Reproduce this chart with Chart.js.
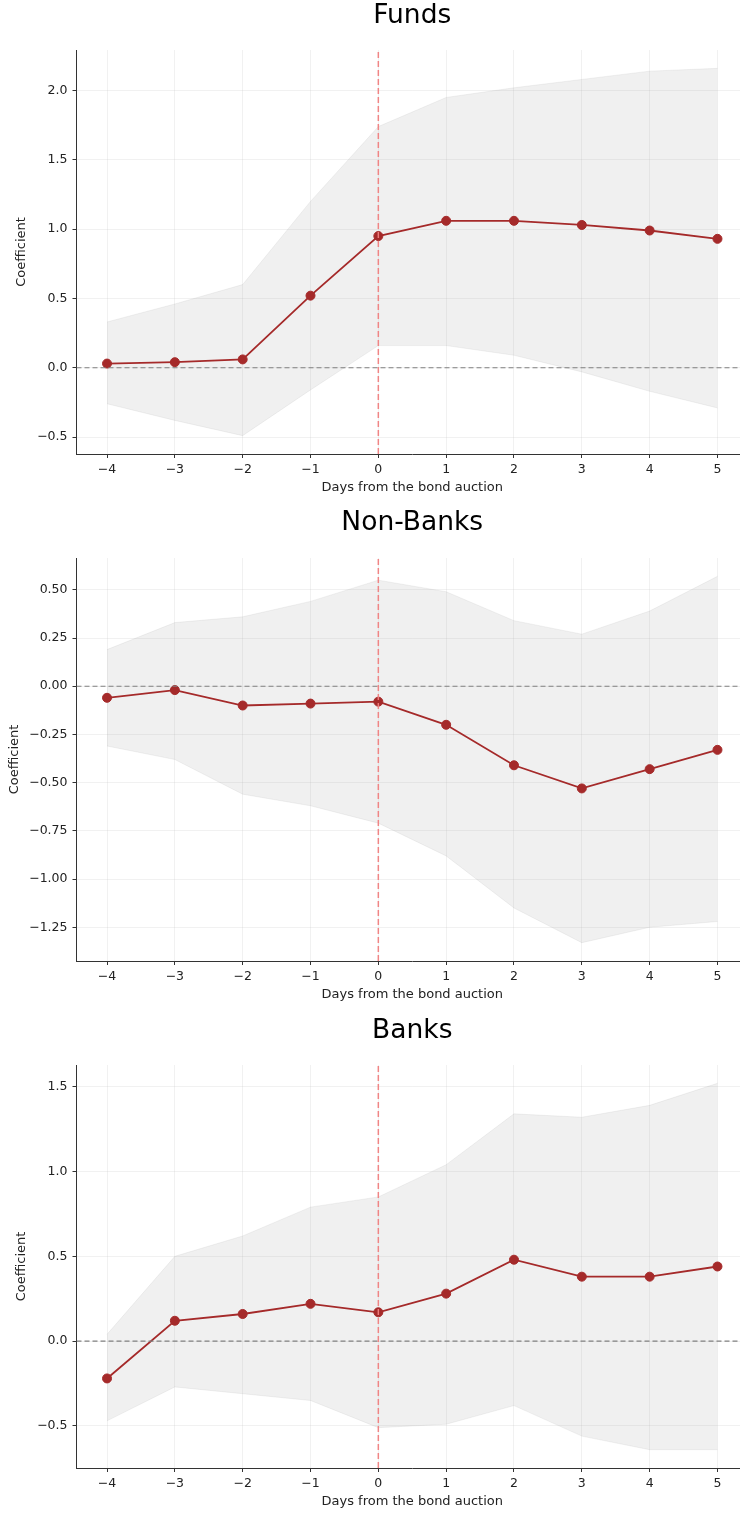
<!DOCTYPE html>
<html>
<head>
<meta charset="utf-8">
<script src="https://cdn.jsdelivr.net/npm/chart.js@4.4.0/dist/chart.umd.min.js"></script>
<style>
  html, body { margin: 0; padding: 0; background: #fff; }
  #wrap { position: relative; width: 740px; height: 1514px; overflow: hidden; }
  canvas { position: absolute; left: 0; }
</style>
</head>
<body>
<div id="wrap">
  <canvas id="funds" width="749" height="505" style="top:0px"></canvas>
  <canvas id="nonbanks" width="749" height="505" style="top:507px"></canvas>
  <canvas id="banks" width="749" height="500" style="top:1014px"></canvas>
</div>
<script>
// Event days relative to the bond auction
const days = [-4, -3, -2, -1, 0, 1, 2, 3, 4, 5];
const xTicks = [-4, -3, -2, -1, 0, 1, 2, 3, 4, 5];

// Funds: point estimates and confidence band
const fundsCoef  = [0.03, 0.04, 0.06, 0.52, 0.95, 1.06, 1.06, 1.03, 0.99, 0.93];
const fundsLower = [-0.26, -0.38, -0.49, -0.16, 0.16, 0.16, 0.09, -0.03, -0.17, -0.29];
const fundsUpper = [0.33, 0.46, 0.60, 1.20, 1.74, 1.95, 2.02, 2.08, 2.14, 2.16];
const fundsYTicks = [-0.5, 0.0, 0.5, 1.0, 1.5, 2.0];

// Non-banks
const nonBanksCoef  = [-0.06, -0.02, -0.10, -0.09, -0.08, -0.20, -0.41, -0.53, -0.43, -0.33];
const nonBanksLower = [-0.31, -0.38, -0.56, -0.62, -0.71, -0.88, -1.15, -1.33, -1.25, -1.22];
const nonBanksUpper = [0.19, 0.33, 0.36, 0.44, 0.55, 0.49, 0.34, 0.27, 0.39, 0.57];
const nonBanksYTicks = [-1.25, -1.00, -0.75, -0.50, -0.25, 0.00, 0.25, 0.50];

// Banks
const banksCoef  = [-0.22, 0.12, 0.16, 0.22, 0.17, 0.28, 0.48, 0.38, 0.38, 0.44];
const banksLower = [-0.47, -0.27, -0.31, -0.35, -0.51, -0.49, -0.38, -0.56, -0.64, -0.64];
const banksUpper = [0.04, 0.50, 0.62, 0.79, 0.85, 1.04, 1.34, 1.32, 1.39, 1.52];
const banksYTicks = [-0.5, 0.0, 0.5, 1.0, 1.5];

const FONT = "'DejaVu Sans', 'Liberation Sans', sans-serif";
const LINE_COLOR = '#a52a2a';
const AXIS_COLOR = '#333333';
const GRID_COLOR = 'rgba(176,176,176,0.18)';
const TITLE_SIZE = 26.5;
const AXIS_TITLE_SIZE = 13;

const fmt = (v, d) => {
  const s = Math.abs(v).toFixed(d);
  return (v < 0 ? '\u2212' : '') + s;
};

// axis limits padded by 5% of the data span on each side
function padRange(values) {
  const lo = Math.min(...values), hi = Math.max(...values);
  const m = (hi - lo) * 0.05;
  return [lo - m, hi + m];
}

function drawPanel(p) {
  const [xMin, xMax] = padRange(days);
  const [yMin, yMax] = padRange([...p.lower, ...p.upper, ...p.coef]);
  const pts = arr => days.map((d, i) => ({ x: d, y: arr[i] }));
  const titleLine = TITLE_SIZE * 1.2;
  const axisLine = AXIS_TITLE_SIZE * 1.2;

  new Chart(document.getElementById(p.id), {
    type: 'line',
    data: {
      datasets: [
        {
          // auction day marker
          data: [{ x: 0, y: yMin }, { x: 0, y: yMax }],
          borderColor: 'rgba(240,128,128,0.95)',
          borderWidth: 1.5,
          borderDash: [6, 3],
          pointRadius: 0,
          fill: false,
          order: 0
        },
        {
          // zero reference
          data: [{ x: xMin, y: 0 }, { x: xMax, y: 0 }],
          borderColor: '#808080',
          borderWidth: 1.2,
          borderDash: [5, 3],
          pointRadius: 0,
          fill: false,
          order: 1
        },
        {
          data: pts(p.coef),
          borderColor: LINE_COLOR,
          backgroundColor: LINE_COLOR,
          borderWidth: 1.8,
          pointRadius: 4.5,
          pointBorderWidth: 1,
          pointBackgroundColor: LINE_COLOR,
          pointBorderColor: LINE_COLOR,
          fill: false,
          order: 2
        },
        {
          data: pts(p.upper),
          borderColor: 'rgba(128,128,128,0.10)',
          borderWidth: 1,
          pointRadius: 0,
          backgroundColor: 'rgba(128,128,128,0.12)',
          fill: '+1',
          order: 3
        },
        {
          data: pts(p.lower),
          borderColor: 'rgba(128,128,128,0.10)',
          borderWidth: 1,
          pointRadius: 0,
          fill: false,
          order: 4
        }
      ]
    },
    options: {
      responsive: false,
      animation: false,
      events: [],
      layout: { autoPadding: false, padding: { left: 0, right: 1, top: 0, bottom: 0 } },
      plugins: {
        legend: { display: false },
        tooltip: { enabled: false },
        title: {
          display: true,
          text: p.title,
          fullSize: false,
          color: '#000',
          font: { family: FONT, size: TITLE_SIZE, weight: 'normal', lineHeight: 1.2 },
          padding: { top: p.titleCenter - titleLine / 2, bottom: p.plotTop - p.titleCenter - titleLine / 2 }
        }
      },
      scales: {
        x: {
          type: 'linear',
          min: xMin,
          max: xMax,
          afterBuildTicks: s => { s.ticks = xTicks.map(v => ({ value: v })); },
          afterFit: s => {
            s.height = p.canvasHeight - p.plotBottom;
            s.paddingLeft = 0;
            s.paddingRight = 0;
          },
          ticks: {
            color: '#222',
            font: { family: FONT, size: 12.5 },
            padding: 4,
            maxRotation: 0,
            callback: v => fmt(v, 0)
          },
          grid: {
            color: GRID_COLOR,
            lineWidth: 1,
            drawTicks: true,
            tickLength: 4,
            tickColor: AXIS_COLOR,
            tickWidth: 1
          },
          border: { display: true, color: AXIS_COLOR, width: 1 },
          title: {
            display: true,
            text: 'Days from the bond auction',
            color: '#222',
            font: { family: FONT, size: AXIS_TITLE_SIZE },
            padding: { top: 0, bottom: p.xTitleBottom - (axisLine - 14.4) / 2 }
          }
        },
        y: {
          type: 'linear',
          min: yMin,
          max: yMax,
          afterBuildTicks: s => { s.ticks = p.yTicks.map(v => ({ value: v })); },
          afterFit: s => {
            s.width = 76.5;
            s.paddingTop = 0;
            s.paddingBottom = 0;
          },
          ticks: {
            color: '#222',
            font: { family: FONT, size: 12.5 },
            padding: 5,
            callback: v => fmt(v, p.decimals)
          },
          grid: {
            color: GRID_COLOR,
            lineWidth: 1,
            drawTicks: true,
            tickLength: 4,
            tickColor: AXIS_COLOR,
            tickWidth: 1
          },
          border: { display: true, color: AXIS_COLOR, width: 1 },
          title: {
            display: true,
            text: 'Coefficient',
            color: '#222',
            font: { family: FONT, size: AXIS_TITLE_SIZE },
            padding: { top: p.yTitleX - axisLine / 2, bottom: 0 }
          }
        }
      }
    }
  });
}

drawPanel({
  id: 'funds', title: 'Funds',
  coef: fundsCoef, lower: fundsLower, upper: fundsUpper,
  yTicks: fundsYTicks, decimals: 1,
  canvasHeight: 505, titleCenter: 16.5, plotTop: 50, plotBottom: 454,
  xTitleBottom: 10, yTitleX: 22
});

drawPanel({
  id: 'nonbanks', title: 'Non-Banks',
  coef: nonBanksCoef, lower: nonBanksLower, upper: nonBanksUpper,
  yTicks: nonBanksYTicks, decimals: 2,
  canvasHeight: 505, titleCenter: 16, plotTop: 51, plotBottom: 454,
  xTitleBottom: 10, yTitleX: 15
});

drawPanel({
  id: 'banks', title: 'Banks',
  coef: banksCoef, lower: banksLower, upper: banksUpper,
  yTicks: banksYTicks, decimals: 1,
  canvasHeight: 500, titleCenter: 17, plotTop: 51, plotBottom: 454,
  xTitleBottom: 5, yTitleX: 22
});
</script>
</body>
</html>
